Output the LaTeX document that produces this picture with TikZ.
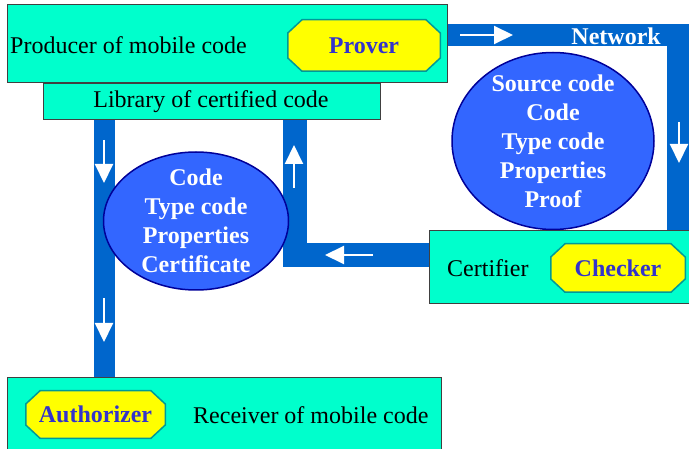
\documentclass[tikz,border=0pt]{standalone}
\usepackage{fontspec}
\setmainfont{Liberation Serif}
\usetikzlibrary{arrows.meta,shapes.geometric}
\definecolor{boxfill}{HTML}{00FFCC}
\definecolor{bandblue}{HTML}{0066CC}
\definecolor{ellfill}{HTML}{3366FF}
\definecolor{elldraw}{HTML}{000099}
\definecolor{octfill}{HTML}{FFFF00}
\definecolor{octdraw}{HTML}{009999}
\definecolor{octtext}{HTML}{3333CC}
\begin{document}
\begin{tikzpicture}[x=1pt,y=-1pt,
 panel/.style={draw=black!75, line width=1pt, fill=boxfill, inner sep=0pt},
 label/.style={font=\fontsize{24}{29}\selectfont, inner sep=0pt},
 octo/.style={rectangle, inner sep=0pt, text=octtext,
   font=\bfseries\fontsize{24}{29}\selectfont,
   path picture={
     \path[fill=octfill, draw=octdraw, line width=1.5pt]
       ([xshift=15pt,yshift=-0.75pt]path picture bounding box.north west)
       -- ([xshift=-15pt,yshift=-0.75pt]path picture bounding box.north east)
       -- ([xshift=-0.75pt,yshift=-14pt]path picture bounding box.north east)
       -- ([xshift=-0.75pt,yshift=14pt]path picture bounding box.south east)
       -- ([xshift=-15pt,yshift=0.75pt]path picture bounding box.south east)
       -- ([xshift=15pt,yshift=0.75pt]path picture bounding box.south west)
       -- ([xshift=0.75pt,yshift=14pt]path picture bounding box.south west)
       -- ([xshift=0.75pt,yshift=-14pt]path picture bounding box.north west)
       -- cycle;
   }},
 bubble/.style={ellipse, draw=elldraw, line width=1.5pt, fill=ellfill, inner sep=0pt},
 bubbletext/.style={text=white, align=center, font=\bfseries\fontsize{24}{29}\selectfont, inner sep=0pt},
 band/.style={draw=bandblue, line join=miter},
 warrow/.style={draw=white, line width=2pt, -{Triangle[length=19pt,width=18pt]}}
]
\useasboundingbox (0,0) rectangle (689,449);

% boxes
\node[panel, minimum width=440pt, minimum height=78pt] (producer) at (227,44) {};
\node[panel, minimum width=337pt, minimum height=36pt] (library) at (211.5,102) {};
\node[panel, minimum width=266pt, minimum height=73pt] (certifier) at (562,267.5) {};
\node[panel, minimum width=434pt, minimum height=80pt] (receiver) at (224,418) {};

\node[label, anchor=west] (producertext) at (10,45) {Producer of mobile code};
\node[label] (librarytext) at (211,102) {Library of certified code};
\node[label, anchor=west] (certifiertext) at (447,268) {Certifier};
\node[label, anchor=west] (receivertext) at (193,415) {Receiver of mobile code};

% octagons
\node[octo, minimum width=154pt, minimum height=53pt] (prover) at (364,45.5) {Prover};
\node[octo, minimum width=136pt, minimum height=50pt] (checker) at (618,268) {Checker};
\node[octo, minimum width=141pt, minimum height=49pt] (authorizer) at (95.5,414.5) {Authorizer};

% bands
\coordinate (netcorner) at (678,35);
\draw[band, line width=22pt] (producer.east |- netcorner) -| (certifier.north -| netcorner);
\coordinate (midcorner) at (294.5,255.5);
\draw[band, line width=24pt] (certifier.west |- midcorner) -| (library.south -| midcorner);
\coordinate (leftline) at (104.5,250);
\draw[band, line width=21pt] (library.south -| leftline) -- (receiver.north -| leftline);

\node[bubbletext, anchor=east] (network) at (661,36) {Network};

% white arrows
\draw[warrow] (460,35) -- (513,35);
\draw[warrow] (679,122) -- (679,163);
\draw[warrow] (373,255) -- (325,255);
\draw[warrow] (294,188) -- (294,145);
\draw[warrow] (104,140) -- (104,183);
\draw[warrow] (104,298) -- (104,342);

% ellipses
\node[bubble, minimum width=202pt, minimum height=177pt] (transit) at (553,141) {};
\node[bubbletext] (transittext) at (transit.center) {Source code\\Code\\Type code\\Properties\\Proof};
\node[bubble, minimum width=185pt, minimum height=138pt] (stored) at (196,221) {};
\node[bubbletext] (storedtext) at (stored.center) {Code\\Type code\\Properties\\Certificate};
\end{tikzpicture}
\end{document}
